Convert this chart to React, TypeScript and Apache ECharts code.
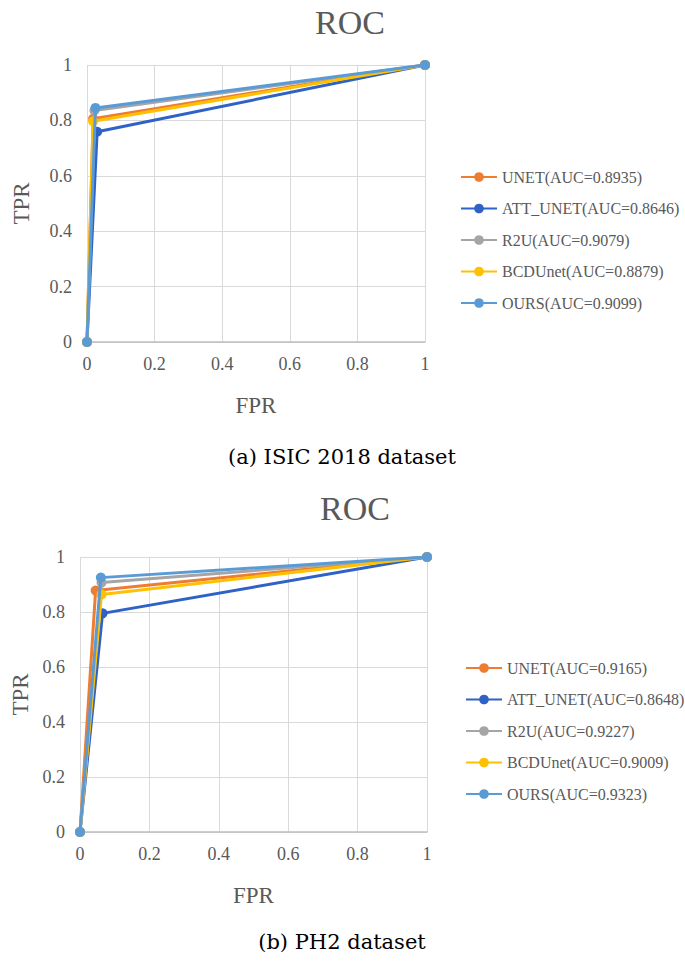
import React, { useEffect, useRef } from "react";
import * as echarts from "echarts";

const modelNames = ["UNET", "ATT_UNET", "R2U", "BCDUnet", "OURS"];
const seriesColors = ["#ED7D31", "#2E62C6", "#A5A5A5", "#FFC000", "#5B9BD5"];

const isicAUC = ["0.8935", "0.8646", "0.9079", "0.8879", "0.9099"];
const isicFPR = [0.018, 0.03, 0.022, 0.018, 0.025];
const isicTPR = [0.806, 0.759, 0.836, 0.797, 0.845];

const ph2AUC = ["0.9165", "0.8648", "0.9227", "0.9009", "0.9323"];
const ph2FPR = [0.045, 0.065, 0.062, 0.062, 0.06];
const ph2TPR = [0.878, 0.795, 0.907, 0.864, 0.925];

const tickLabels = ["0", "0.2", "0.4", "0.6", "0.8", "1"];

const captions = ["(a) ISIC 2018 dataset", "(b) PH2 dataset"];

const GRAY = "#595959";
const FONT = "Liberation Serif";

export default function App() {
  const ref = useRef<HTMLDivElement>(null);

  useEffect(() => {
    if (!ref.current) return;
    const chart = echarts.init(ref.current, undefined, { renderer: "svg" });

    const makeSeries = (idx: number, auc: string[], fpr: number[], tpr: number[]) =>
      modelNames.map((m, i) => ({
        type: "line",
        name: `${m}(AUC=${auc[i]})`,
        xAxisIndex: idx,
        yAxisIndex: idx,
        data: [
          [0, 0],
          [fpr[i], tpr[i]],
          [1, 1],
        ],
        symbol: "circle",
        symbolSize: 10,
        showSymbol: true,
        lineStyle: { width: 3, color: seriesColors[i] },
        itemStyle: { color: seriesColors[i] },
        z: 2 + i,
      }));

    const grids = [
      { left: 87, top: 65, width: 338, height: 277 },
      { left: 80, top: 557, width: 347, height: 275 },
    ];

    const fmt = (v: number) => tickLabels[Math.round(v * 5)] ?? String(v);

    const axisLabel = {
      color: GRAY,
      fontSize: 18,
      fontFamily: FONT,
      fontWeight: "normal",
      formatter: fmt,
    };
    const nameStyle = { color: GRAY, fontSize: 23, fontFamily: FONT };

    const xAxes = [0, 1].map((g) => ({
      type: "value",
      gridIndex: g,
      min: 0,
      max: 1,
      interval: 0.2,
      name: "FPR",
      nameLocation: "middle",
      nameGap: 52,
      nameTextStyle: nameStyle,
      axisLine: { show: true, lineStyle: { color: "#BFBFBF", width: 1.5 } },
      axisTick: { show: false },
      axisLabel: { ...axisLabel, margin: 13 },
      splitLine: { show: true, lineStyle: { color: "#D9D9D9", width: 1 } },
    }));

    const yAxes = [0, 1].map((g) => ({
      type: "value",
      gridIndex: g,
      min: 0,
      max: 1,
      interval: 0.2,
      name: "TPR",
      nameLocation: "middle",
      nameGap: g === 0 ? 54 : 48,
      nameRotate: 90,
      nameTextStyle: nameStyle,
      axisLine: { show: false },
      axisTick: { show: false },
      axisLabel: { ...axisLabel, margin: 15 },
      splitLine: { show: true, lineStyle: { color: "#D9D9D9", width: 1 } },
    }));

    const legendBase = {
      orient: "vertical",
      itemWidth: 36,
      itemHeight: 12,
      itemGap: 15.5,
      textStyle: { color: GRAY, fontSize: 16, fontFamily: FONT, lineHeight: 16 },
    };

    chart.setOption({
      animation: false,
      backgroundColor: "#ffffff",
      textStyle: { fontFamily: FONT },
      title: [
        {
          text: "ROC",
          left: 345,
          top: 0,
          textAlign: "center",
          textStyle: { color: GRAY, fontSize: 34, fontWeight: "normal", fontFamily: FONT },
        },
        {
          text: "ROC",
          left: 350,
          top: 486,
          textAlign: "center",
          textStyle: { color: GRAY, fontSize: 34, fontWeight: "normal", fontFamily: FONT },
        },
      ],
      legend: [
        {
          ...legendBase,
          left: 455,
          top: 164,
          data: modelNames.map((m, i) => `${m}(AUC=${isicAUC[i]})`),
        },
        {
          ...legendBase,
          left: 460,
          top: 655,
          data: modelNames.map((m, i) => `${m}(AUC=${ph2AUC[i]})`),
        },
      ],
      grid: grids,
      xAxis: xAxes,
      yAxis: yAxes,
      series: [
        ...makeSeries(0, isicAUC, isicFPR, isicTPR),
        ...makeSeries(1, ph2AUC, ph2FPR, ph2TPR),
      ],
      graphic: [
        {
          type: "text",
          x: 342,
          y: 457,
          style: {
            text: captions[0],
            fill: "#000000",
            fontSize: 21,
            fontFamily: "DejaVu Serif",
            align: "center",
            verticalAlign: "middle",
          },
        },
        {
          type: "text",
          x: 342,
          y: 942,
          style: {
            text: captions[1],
            fill: "#000000",
            fontSize: 21,
            fontFamily: "DejaVu Serif",
            align: "center",
            verticalAlign: "middle",
          },
        },
      ],
    });

    return () => chart.dispose();
  }, []);

  return (
    <div
      ref={ref}
      style={{ position: "fixed", left: 0, top: 0, width: 685, height: 962, background: "#fff" }}
    />
  );
}
